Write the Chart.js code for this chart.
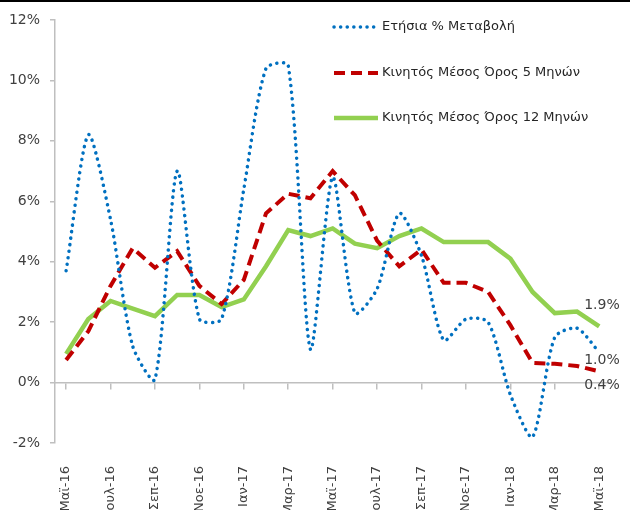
<!DOCTYPE html>
<html>
<head>
<meta charset="utf-8">
<script src="https://cdn.jsdelivr.net/npm/chart.js@4/dist/chart.umd.min.js"></script>
<style>
  body { margin: 0; background: #fff; }
  #wrap { position: relative; width: 630px; height: 510px; overflow: hidden; }
  #topbar { position: absolute; left: 0; top: 0; width: 630px; height: 2px; background: #000; }
</style>
</head>
<body>
<div id="wrap">
  <canvas id="chart" width="630" height="510"></canvas>
  <div id="topbar"></div>
</div>
<script>
const months = ['Μαϊ-16', 'Ιουν-16', 'Ιουλ-16', 'Αυγ-16', 'Σεπ-16', 'Οκτ-16', 'Νοε-16', 'Δεκ-16',
  'Ιαν-17', 'Φεβ-17', 'Μαρ-17', 'Απρ-17', 'Μαϊ-17', 'Ιουν-17', 'Ιουλ-17', 'Αυγ-17', 'Σεπ-17',
  'Οκτ-17', 'Νοε-17', 'Δεκ-17', 'Ιαν-18', 'Φεβ-18', 'Μαρ-18', 'Απρ-18', 'Μαϊ-18'];

const annualChange = [3.7, 8.2, 5.4, 1.2, 0.1, 7.0, 2.1, 2.1, 6.4, 10.4, 10.5, 1.1, 6.8,
  2.3, 3.1, 5.6, 4.2, 1.4, 2.1, 2.0, -0.4, -1.8, 1.5, 1.8, 1.0];
const movingAvg5 = [0.75, 1.7, 3.2, 4.45, 3.8, 4.35, 3.2, 2.6, 3.4, 5.6, 6.25, 6.1, 7.0,
  6.2, 4.7, 3.85, 4.4, 3.3, 3.3, 3.0, 1.9, 0.65, 0.62, 0.55, 0.37];
const movingAvg12 = [0.95, 2.1, 2.7, 2.45, 2.2, 2.9, 2.9, 2.5, 2.75, 3.85, 5.05, 4.85, 5.1,
  4.6, 4.45, 4.85, 5.1, 4.65, 4.65, 4.65, 4.1, 3.0, 2.3, 2.35, 1.86];

const yTicks = [-2, 0, 2, 4, 6, 8, 10, 12];

const axisGray = '#bfbfbf';
const textGray = '#404040';
const font = 'DejaVu Sans';

// legend drawn inside the plot, top right
const legendPlugin = {
  id: 'sideLegend',
  afterDraw(chart) {
    const ctx = chart.ctx;
    const rows = [27, 73, 118];
    chart.data.datasets.forEach((ds, i) => {
      const y = rows[i];
      ctx.save();
      ctx.strokeStyle = ds.borderColor;
      ctx.lineWidth = ds.borderWidth;
      ctx.lineCap = ds.borderCapStyle || 'butt';
      ctx.setLineDash(ds.borderDash || []);
      ctx.beginPath();
      ctx.moveTo(334, y);
      ctx.lineTo(378, y);
      ctx.stroke();
      ctx.setLineDash([]);
      ctx.fillStyle = '#262626';
      ctx.font = '13px "' + font + '"';
      ctx.textBaseline = 'middle';
      ctx.fillText(ds.label, 382, y);
      ctx.restore();
    });
  }
};

// value labels at the last point of each series
const endLabelPlugin = {
  id: 'endLabels',
  afterDatasetsDraw(chart) {
    const ctx = chart.ctx;
    const shifts = [8, 14, -21];
    chart.data.datasets.forEach((ds, i) => {
      const meta = chart.getDatasetMeta(i);
      const last = meta.data[meta.data.length - 1];
      const v = ds.data[ds.data.length - 1];
      ctx.save();
      ctx.fillStyle = textGray;
      ctx.font = '14px "' + font + '"';
      ctx.textAlign = 'left';
      ctx.textBaseline = 'middle';
      ctx.fillText(v.toFixed(1) + '%', last.x - 15, last.y + shifts[i]);
      ctx.restore();
    });
  }
};

new Chart(document.getElementById('chart'), {
  type: 'line',
  data: {
    labels: months,
    datasets: [
      {
        label: 'Ετήσια % Μεταβολή',
        data: annualChange,
        borderColor: '#0070c0',
        borderWidth: 3.5,
        borderDash: [0.1, 6.5],
        borderCapStyle: 'round',
        tension: 0.25,
        pointRadius: 0
      },
      {
        label: 'Κινητός Μέσος Όρος 5 Μηνών',
        data: movingAvg5,
        borderColor: '#c00000',
        borderWidth: 4,
        borderDash: [11, 6],
        tension: 0,
        pointRadius: 0
      },
      {
        label: 'Κινητός Μέσος Όρος 12 Μηνών',
        data: movingAvg12,
        borderColor: '#92d050',
        borderWidth: 4.5,
        tension: 0,
        pointRadius: 0
      }
    ]
  },
  options: {
    responsive: false,
    animation: false,
    devicePixelRatio: 1,
    layout: { padding: { top: 20, right: 10, left: 0, bottom: 0 } },
    plugins: {
      legend: { display: false },
      tooltip: { enabled: false }
    },
    scales: {
      x: {
        type: 'category',
        offset: true,
        grid: { display: false },
        border: { display: false },
        ticks: {
          autoSkip: false,
          maxRotation: 90,
          minRotation: 90,
          padding: 15,
          color: textGray,
          font: { family: font, size: 13 },
          callback: (v, i) => (i % 2 === 0 ? months[i] : '')
        },
        afterFit: s => { s.height = 67; }
      },
      zero: {
        type: 'category',
        axis: 'x',
        position: { y: 0 },
        offset: true,
        grid: {
          drawOnChartArea: false,
          drawTicks: true,
          tickLength: 6,
          color: c => (c.index % 2 === 0 ? axisGray : 'rgba(0,0,0,0)'),
          lineWidth: 1.5
        },
        border: { display: true, color: axisGray, width: 1.5 },
        ticks: { display: false, autoSkip: false }
      },
      y: {
        min: -2,
        max: 12,
        afterBuildTicks: s => { s.ticks = yTicks.map(v => ({ value: v })); },
        grid: {
          drawOnChartArea: false,
          drawTicks: true,
          tickLength: 5,
          color: axisGray,
          lineWidth: 1.5
        },
        border: { display: true, color: axisGray, width: 1.5 },
        ticks: {
          padding: 10,
          color: textGray,
          font: { family: font, size: 14 },
          callback: v => v + '%'
        },
        afterFit: s => { s.width = 55; }
      }
    }
  },
  plugins: [legendPlugin, endLabelPlugin]
});
</script>
</body>
</html>
